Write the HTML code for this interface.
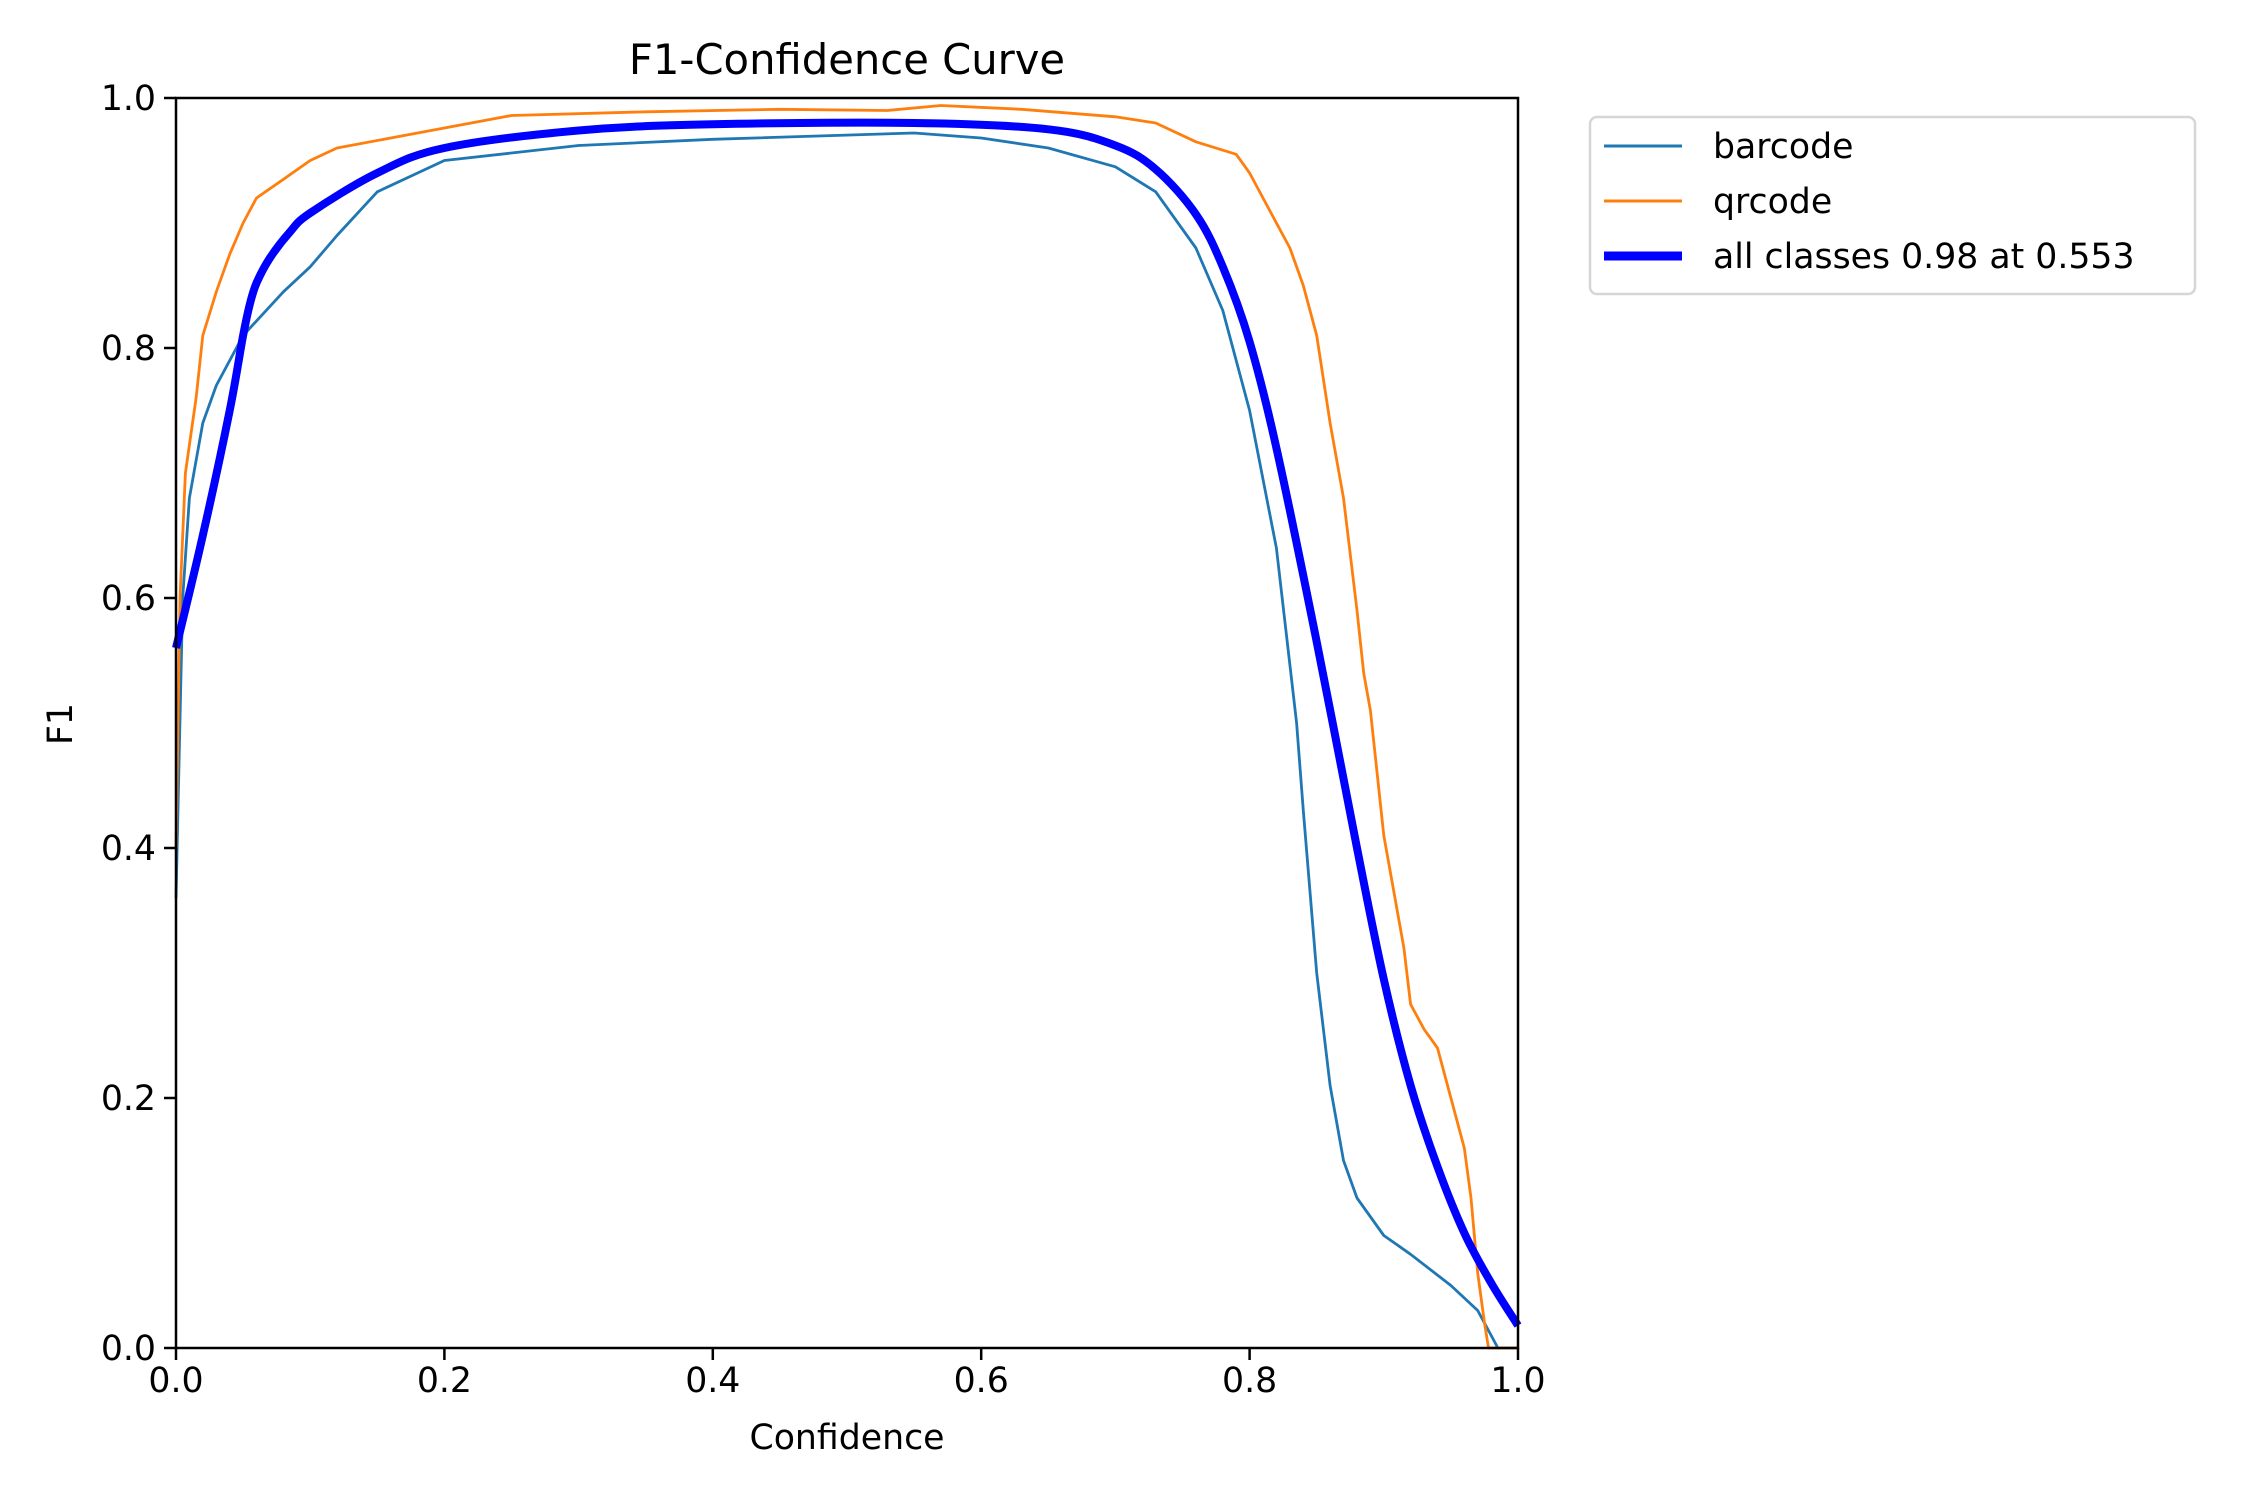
<!DOCTYPE html>
<html><head><meta charset="utf-8"><style>
html,body{margin:0;padding:0;background:#fff}
svg text{font-family:"DejaVu Sans","Liberation Sans",sans-serif;fill:#000}
</style></head><body>
<svg id="s" width="2250" height="1500" xmlns="http://www.w3.org/2000/svg">
<rect width="2250" height="1500" fill="#fff"/>
<g id="plot"></g>
<rect x="176" y="98" width="1342" height="1250" fill="none" stroke="#000" stroke-width="2.5"/>
<g id="ticks" font-size="34.7"></g>
<text x="847" y="74" font-size="41.7" text-anchor="middle">F1-Confidence Curve</text>
<text x="847" y="1449" font-size="34.7" text-anchor="middle">Confidence</text>
<text transform="translate(72,724) rotate(-90)" font-size="34.7" text-anchor="middle">F1</text>
<rect x="1590" y="117" width="605" height="177" rx="7" fill="#fff" stroke="#d6d6d6" stroke-width="2.5"/>
<line x1="1604" y1="146" x2="1682" y2="146" stroke="#1f77b4" stroke-width="3"/>
<line x1="1604" y1="201" x2="1682" y2="201" stroke="#ff7f0e" stroke-width="3"/>
<line x1="1604" y1="256" x2="1682" y2="256" stroke="#0000ff" stroke-width="9"/>
<text x="1713" y="158" font-size="34.7">barcode</text>
<text x="1713" y="213" font-size="34.7">qrcode</text>
<text x="1713" y="268" font-size="34.7">all classes 0.98 at 0.553</text>
</svg>
<script>
var L=176,R=1518,T=98,B=1348;
function X(c){return L+c*(R-L)} function Y(f){return B-f*(B-T)}
function path(pts,col,w,smooth){
var p=pts.map(function(q){return [X(q[0]),Y(q[1])]});
var d='M'+p[0][0].toFixed(1)+' '+p[0][1].toFixed(1);
for(var i=0;i<p.length-1;i++){
 if(!smooth){d+=' L'+p[i+1][0].toFixed(1)+' '+p[i+1][1].toFixed(1);continue;}
 var p0=p[i-1]||p[i],p1=p[i],p2=p[i+1],p3=p[i+2]||p2;
 var c1=[p1[0]+(p2[0]-p0[0])/6,p1[1]+(p2[1]-p0[1])/6],c2=[p2[0]-(p3[0]-p1[0])/6,p2[1]-(p3[1]-p1[1])/6];
 d+=' C'+c1[0].toFixed(1)+' '+c1[1].toFixed(1)+' '+c2[0].toFixed(1)+' '+c2[1].toFixed(1)+' '+p2[0].toFixed(1)+' '+p2[1].toFixed(1);}
return '<path d="'+d+'" fill="none" stroke="'+col+'" stroke-width="'+w+'" stroke-linejoin="round"/>';}
var bar=[[0,0.36],[0.005,0.6],[0.01,0.68],[0.02,0.74],[0.03,0.77],[0.05,0.81],[0.08,0.845],[0.1,0.865],[0.12,0.89],[0.15,0.925],[0.2,0.95],[0.3,0.962],[0.4,0.967],[0.55,0.972],[0.6,0.968],[0.65,0.96],[0.7,0.945],[0.73,0.925],[0.76,0.88],[0.78,0.83],[0.8,0.75],[0.82,0.64],[0.835,0.5],[0.84,0.43],[0.85,0.3],[0.86,0.21],[0.87,0.15],[0.88,0.12],[0.9,0.09],[0.92,0.075],[0.95,0.05],[0.97,0.03],[0.98,0.01],[0.985,0],[1,0]];
var qr=[[0,0.4],[0.003,0.6],[0.007,0.7],[0.015,0.76],[0.02,0.81],[0.03,0.845],[0.04,0.875],[0.05,0.9],[0.06,0.92],[0.08,0.935],[0.1,0.95],[0.12,0.96],[0.16,0.968],[0.2,0.976],[0.25,0.986],[0.35,0.989],[0.45,0.991],[0.53,0.99],[0.57,0.994],[0.63,0.991],[0.7,0.985],[0.73,0.98],[0.76,0.965],[0.79,0.955],[0.8,0.94],[0.81,0.92],[0.82,0.9],[0.83,0.88],[0.84,0.85],[0.85,0.81],[0.86,0.74],[0.87,0.68],[0.88,0.59],[0.885,0.54],[0.89,0.51],[0.9,0.41],[0.91,0.35],[0.915,0.32],[0.92,0.275],[0.93,0.255],[0.94,0.24],[0.95,0.2],[0.96,0.16],[0.965,0.12],[0.97,0.06],[0.975,0.02],[0.978,0],[1,0]];
var all=[[0,0.56],[0.02,0.65],[0.04,0.75],[0.05,0.81],[0.055,0.835],[0.06,0.852],[0.07,0.872],[0.085,0.893],[0.1,0.908],[0.15,0.94],[0.2,0.96],[0.3,0.974],[0.4,0.979],[0.55,0.98],[0.65,0.975],[0.7,0.962],[0.73,0.943],[0.76,0.907],[0.78,0.865],[0.8,0.805],[0.82,0.72],[0.85,0.565],[0.88,0.4],[0.9,0.295],[0.92,0.21],[0.94,0.145],[0.96,0.092],[0.98,0.052],[1,0.018]];
document.getElementById('plot').innerHTML=path(bar,'#1f77b4',2.8,false)+path(qr,'#ff7f0e',2.8,false)+path(all,'#0000ff',8,true);
var t='';
for(var i=0;i<=5;i++){var v=i*0.2,lab=v.toFixed(1);
t+='<line x1="'+X(v)+'" y1="'+B+'" x2="'+X(v)+'" y2="'+(B+12)+'" stroke="#000" stroke-width="2.5"/>';
t+='<text x="'+X(v)+'" y="'+(B+44)+'" text-anchor="middle">'+lab+'</text>';
t+='<line x1="'+(L-12)+'" y1="'+Y(v)+'" x2="'+L+'" y2="'+Y(v)+'" stroke="#000" stroke-width="2.5"/>';
t+='<text x="'+(L-20)+'" y="'+(Y(v)+12)+'" text-anchor="end">'+lab+'</text>';}
document.getElementById('ticks').innerHTML=t;
</script>
</body></html>
